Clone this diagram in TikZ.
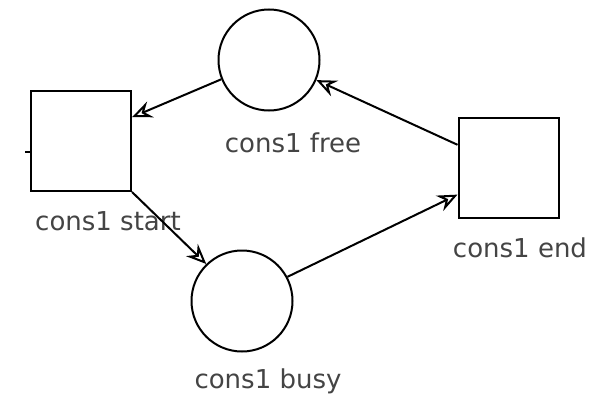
\documentclass[tikz,border=0pt]{standalone}
\usepackage{fontspec}
\setmainfont{DejaVu Sans}
\usepackage{tikz}
\usetikzlibrary{positioning,arrows.meta}
\definecolor{labelgray}{HTML}{444444}

\begin{document}
\begin{tikzpicture}[x=1pt, y=-1pt, line width=2pt,
    place/.style={draw, circle, minimum size=101pt, inner sep=0pt},
    trans/.style={draw, rectangle, minimum size=100pt, inner sep=0pt},
    lbl/.style={text=labelgray, font=\fontsize{26}{30}\selectfont, inner sep=0pt},
    flow/.style={-{Stealth[open, length=20pt, width=17pt, inset=7pt]}}]
    \useasboundingbox (0,0) rectangle (592,399);
    % places and transitions
    \node[place] (free) at (269,60) {};
    \node[place] (busy) at (242,301) {};
    \node[trans] (start) at (81,141) {};
    \node[trans] (stop) at (508.5,167.5) {};
    % labels
    \node[lbl] (freelbl) at (293,143) {cons1 free};
    \node[lbl] (busylbl) at (268,381) {cons1 busy};
    \node[lbl] (startlbl) at (108,221) {cons1 start};
    \node[lbl] (stoplbl) at (520,248) {cons1 end};
    % arcs
    \draw[flow] (free.202) -- (start.25);
    \draw[flow] (start.south east) -- (busy.134);
    \draw[flow] (busy.28) -- (stop.208);
    \draw[flow] (stop.156) -- (free.337);
    \coordinate (stub) at (25,152);
    \draw (stub) -- (start.west |- stub);
  \end{tikzpicture}
\end{document}
